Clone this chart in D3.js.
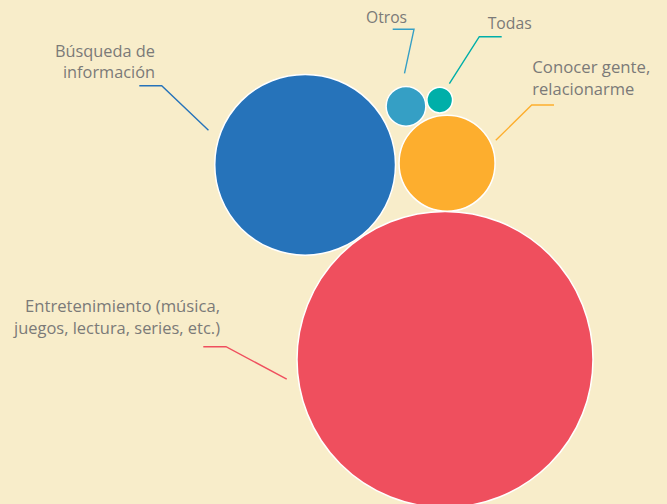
<!DOCTYPE html>
<html>
<head>
<meta charset="utf-8">
<script src="https://cdn.jsdelivr.net/npm/d3@7"></script>
<style>
  html, body { margin: 0; padding: 0; background: #f8edca; }
  svg { display: block; }
</style>
</head>
<body>
<svg id="chart" width="667" height="504"></svg>
<script>
// ---- data ----
const categories = [
  "Entretenimiento (música, juegos, lectura, series, etc.)",
  "Búsqueda de información",
  "Conocer gente, relacionarme",
  "Otros",
  "Todas"
];
const values = [66.5, 24.8, 7.0, 1.2, 0.5];
const labelLines = [
  ["Entretenimiento (música,", "juegos, lectura, series, etc.)"],
  ["Búsqueda de", "información"],
  ["Conocer gente,", "relacionarme"],
  ["Otros"],
  ["Todas"]
];

// ---- styles / layout ----
const colors = ["#ef4f5e", "#2673ba", "#fdae2e", "#359fc5", "#00afa9"];
const W = 667, H = 504;
const maxR = 148;
// bubble placement: tangent chain (parent, angle in degrees, gap)
const placement = [
  { parent: null, cx: 445, cy: 359.4 },
  { parent: 0, angle: -125.7, gap: 1.3 },
  { parent: 0, angle: -89.4, gap: 0.2 },
  { parent: 2, angle: -125.8, gap: 2.3 },
  { parent: 2, angle: -96.6, gap: 2.7 }
];
// label placement: text anchor, x, first baseline; leader line (text end, elbow, angle to circle, offset)
const labelLayout = [
  { anchor: "end",   x: 220,   y: 312.3, widths: [195, 206], lead: [[203.3, 346.7], [226, 346.7]], angle: 172.9, off: 11.5 },
  { anchor: "end",   x: 155,   y: 56.7,  widths: [100, 92],  lead: [[139.3, 85.7], [161.7, 85.7]], angle: -160.3, off: 12.3 },
  { anchor: "start", x: 532.3, y: 73.3,  widths: [118, 102], lead: [[554, 105], [531.7, 105]], angle: -25.1, off: 5.8 },
  { anchor: "start", x: 366,   y: 22.7,  widths: [41],       lead: [[392.7, 29.3], [414, 29.3]], angle: -92.6, off: 13.1 },
  { anchor: "start", x: 487.7, y: 29,    widths: [44],       lead: [[501.7, 36.7], [479.3, 36.7]], angle: -59.8, off: 6.3 }
];
const lineHeight = 21.5;

const svg = d3.select("#chart");
svg.append("rect").attr("width", W).attr("height", H).attr("fill", "#f8edca");

const r = d3.scaleSqrt().domain([0, d3.max(values)]).range([0, maxR]);

const nodes = values.map((v, i) => ({ name: categories[i], value: v, r: r(v), color: colors[i] }));
placement.forEach((p, i) => {
  const n = nodes[i];
  if (p.parent === null) { n.x = p.cx; n.y = p.cy; }
  else {
    const par = nodes[p.parent];
    const a = p.angle * Math.PI / 180;
    const d = par.r + n.r + p.gap;
    n.x = par.x + d * Math.cos(a);
    n.y = par.y + d * Math.sin(a);
  }
});

// leader lines
const line = d3.line();
nodes.forEach((n, i) => {
  const L = labelLayout[i];
  const a = L.angle * Math.PI / 180;
  const end = [n.x + (n.r + L.off) * Math.cos(a), n.y + (n.r + L.off) * Math.sin(a)];
  svg.append("path")
    .attr("d", line([L.lead[0], L.lead[1], end]))
    .attr("fill", "none")
    .attr("stroke", n.color)
    .attr("stroke-width", 1.4);
});

// bubbles
svg.selectAll("circle.bubble")
  .data(nodes)
  .join("circle")
  .attr("class", "bubble")
  .attr("cx", d => d.x)
  .attr("cy", d => d.y)
  .attr("r", d => d.r)
  .attr("fill", d => d.color)
  .attr("stroke", "#ffffff")
  .attr("stroke-width", 1.5);

// labels (one text element per line)
labelLines.forEach((lines, i) => {
  const L = labelLayout[i];
  lines.forEach((s, j) => {
    svg.append("text")
      .attr("text-anchor", L.anchor)
      .attr("font-family", "'Open Sans', sans-serif")
      .attr("font-size", 15.8)
      .attr("fill", "#7b7a78")
      .attr("x", L.x)
      .attr("y", L.y + j * lineHeight)
      .attr("textLength", L.widths[j])
      .attr("lengthAdjust", "spacingAndGlyphs")
      .text(s);
  });
});
</script>
</body>
</html>
